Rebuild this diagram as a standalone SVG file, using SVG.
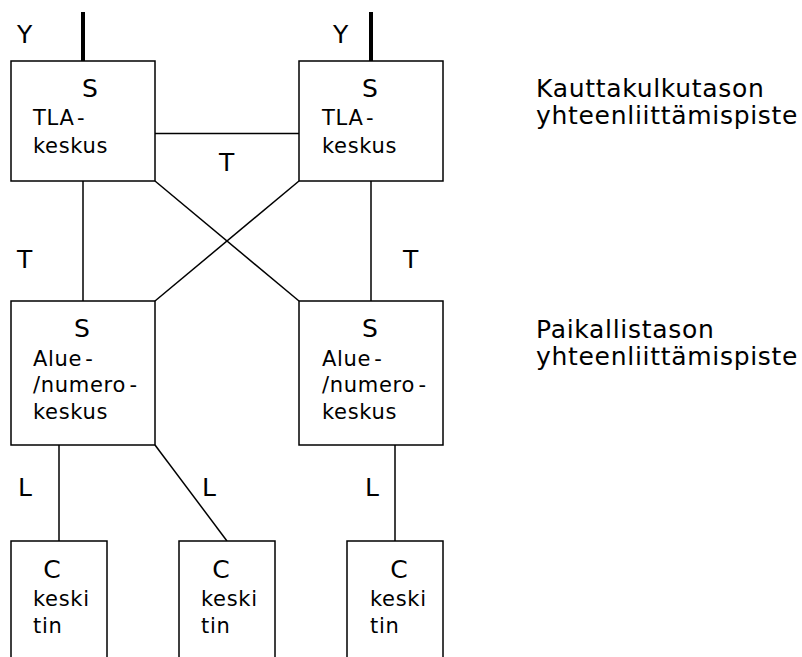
<svg xmlns="http://www.w3.org/2000/svg" width="802" height="657" viewBox="0 0 802 657">
<style>
.box{fill:#fff;stroke:#000;stroke-width:1.5}
.ln{stroke:#000;stroke-width:1.5;fill:none}
.thick{stroke:#000;stroke-width:4;fill:none}
text{font-family:"DejaVu Sans",Verdana,sans-serif;fill:#000}
.big{font-size:25px}
.sm{font-size:21px;letter-spacing:0.7px}
.lab{font-size:25px}
.leg{font-size:25px;letter-spacing:0.7px}
</style>
<rect width="802" height="657" fill="#fff"/>
<g id="connectors">
<line class="thick" x1="83" y1="12" x2="83" y2="61"/>
<line class="thick" x1="371" y1="12" x2="371" y2="61"/>
<line class="ln" x1="155" y1="133.5" x2="299" y2="133.5"/>
<line class="ln" x1="83" y1="181" x2="83" y2="301"/>
<line class="ln" x1="371" y1="181" x2="371" y2="301"/>
<line class="ln" x1="155" y1="181" x2="299" y2="301"/>
<line class="ln" x1="299" y1="181" x2="155" y2="301"/>
<line class="ln" x1="59" y1="445" x2="59" y2="541"/>
<line class="ln" x1="155" y1="445" x2="227" y2="541"/>
<line class="ln" x1="395" y1="445" x2="395" y2="541"/>
</g>
<g id="labels">
<text class="lab" x="17" y="43">Y</text>
<text class="lab" x="333" y="43">Y</text>
<text class="lab" x="219" y="171">T</text>
<text class="lab" x="17" y="268">T</text>
<text class="lab" x="403" y="268">T</text>
<text class="lab" x="18" y="496">L</text>
<text class="lab" x="202" y="496">L</text>
<text class="lab" x="365" y="496">L</text>
</g>
<g id="tla1">
<rect class="box" x="11" y="61" width="144" height="120"/>
<text class="big" x="90" y="97" text-anchor="middle">S</text>
<text class="sm" x="33" y="125">TLA<tspan dx="3">-</tspan></text>
<text class="sm" x="33" y="153">keskus</text>
</g>
<g id="tla2">
<rect class="box" x="299" y="61" width="144" height="120"/>
<text class="big" x="370" y="97" text-anchor="middle">S</text>
<text class="sm" x="322" y="125">TLA<tspan dx="3">-</tspan></text>
<text class="sm" x="322" y="153">keskus</text>
</g>
<g id="alue1">
<rect class="box" x="11" y="301" width="144" height="144"/>
<text class="big" x="82" y="337" text-anchor="middle">S</text>
<text class="sm" x="33" y="366">Alue<tspan dx="3">-</tspan></text>
<text class="sm" x="33" y="392">/numero<tspan dx="3">-</tspan></text>
<text class="sm" x="33" y="419">keskus</text>
</g>
<g id="alue2">
<rect class="box" x="299" y="301" width="144" height="144"/>
<text class="big" x="370" y="337" text-anchor="middle">S</text>
<text class="sm" x="322" y="366">Alue<tspan dx="3">-</tspan></text>
<text class="sm" x="322" y="392">/numero<tspan dx="3">-</tspan></text>
<text class="sm" x="322" y="419">keskus</text>
</g>
<g id="c1">
<rect class="box" x="11" y="541" width="96" height="130"/>
<text class="big" x="52" y="578" text-anchor="middle">C</text>
<text class="sm" x="33" y="606">keski</text>
<text class="sm" x="33" y="633">tin</text>
</g>
<g id="c2">
<rect class="box" x="179" y="541" width="96" height="130"/>
<text class="big" x="221" y="578" text-anchor="middle">C</text>
<text class="sm" x="201" y="606">keski</text>
<text class="sm" x="201" y="633">tin</text>
</g>
<g id="c3">
<rect class="box" x="347" y="541" width="96" height="130"/>
<text class="big" x="399" y="578" text-anchor="middle">C</text>
<text class="sm" x="370" y="606">keski</text>
<text class="sm" x="370" y="633">tin</text>
</g>
<g id="legend">
<text class="leg" x="536" y="97">Kauttakulkutason</text>
<text class="leg" x="536" y="124">yhteenliittämispiste</text>
<text class="leg" x="536" y="338">Paikallistason</text>
<text class="leg" x="536" y="365">yhteenliittämispiste</text>
</g>
</svg>
